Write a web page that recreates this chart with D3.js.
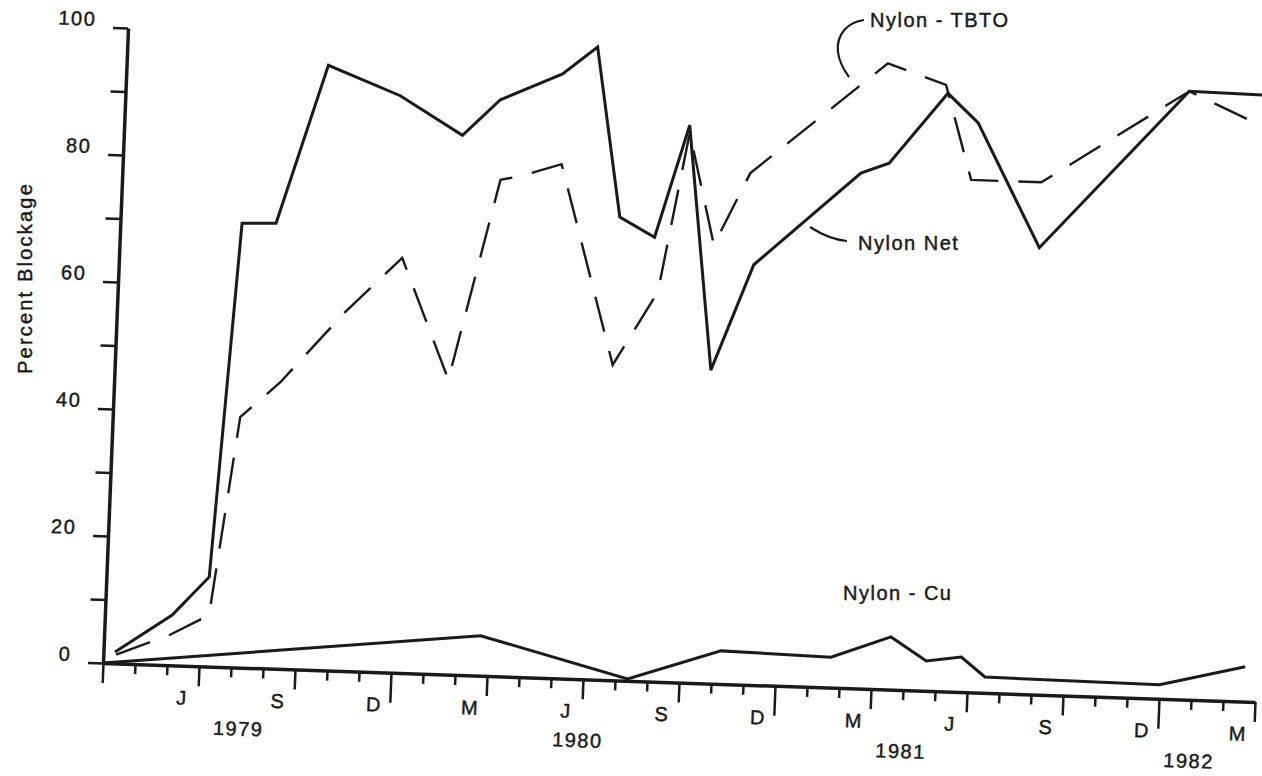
<!DOCTYPE html>
<html>
<head>
<meta charset="utf-8">
<script src="https://cdn.jsdelivr.net/npm/d3@7"></script>
<style>
  body { margin: 0; background: #fff; }
  text { font-family: "Liberation Sans", Arial, sans-serif; fill: #1a1a1a; stroke: #1a1a1a; stroke-width: 0.45px; }
</style>
</head>
<body>
<div id="visual"></div>
<script>
// x values are months counted from 1 April 1979, y values are percent blockage
var netMonth  = [0.36, 2.10, 3.21, 3.80, 4.86, 6.30, 8.58, 10.57, 11.71, 13.62, 14.68, 15.58, 16.69, 17.65, 18.61, 19.82, 23.05, 23.92, 25.67, 26.65, 28.71, 33.2, 35.5];
var netValue  = [1.8, 7.9, 14.1, 69.9, 70.1, 95.2, 90.8, 84.9, 90.7, 95.1, 99.5, 72.9, 69.9, 87.7, 49.3, 66.1, 81.1, 82.8, 94.1, 89.6, 70.3, 95.7, 95.5];

var tbtoMonth = [0.4, 2.06, 3.25, 3.98, 5.19, 7.09, 8.84, 10.43, 11.81, 12.43, 13.7, 15.54, 16.86, 17.66, 18.55, 19.6, 23.76, 25.6, 26.5, 28.69, 33.2, 35.56];
var tbtoValue = [1.4, 4.8, 8.1, 39.4, 45.1, 56.3, 65.3, 46.4, 78.1, 78.8, 80.9, 49.6, 61.3, 86.5, 69.0, 80.5, 98.5, 95.4, 80.6, 80.6, 95.7, 90.5];

var cuMonth   = [0, 11.75, 16.39, 19.27, 22.71, 24.56, 25.69, 26.78, 27.54, 33.0, 35.65];
var cuValue   = [0, 6.3, 0.3, 5.2, 4.8, 8.3, 4.7, 5.5, 2.5, 2.2, 5.5];

var monthLabels = ["J", "S", "D", "M", "J", "S", "D", "M", "J", "S", "D", "M"];
var labelMonths = [2, 5, 8, 11, 14, 17, 20, 23, 26, 29, 32, 35];
var yearLabels  = ["1979", "1980", "1981", "1982"];
var yearMonths  = [4.3, 14.9, 25.0, 34.0];

var width = 1262, height = 776;

var svg = d3.select("#visual").append("svg")
  .attr("width", width)
  .attr("height", height);

var x = d3.scaleLinear().domain([0, 36]).range([0, 1152]);
var y = d3.scaleLinear().domain([0, 100]).range([0, -635]);

// the scanned figure is slightly tilted, so the whole plot frame is sheared
var plot = svg.append("g")
  .attr("transform", "matrix(1,0.0339,-0.0394,1,103,663)");

// x axis: month ticks, longer at quarters, longest at January
var allMonths = d3.range(0, 37);
var janTicks = allMonths.filter(function(m) { return (m + 3) % 12 === 0; });
var qTicks = allMonths.filter(function(m) { return m % 3 === 0 && (m + 3) % 12 !== 0; });
var minorTicks = allMonths.filter(function(m) { return m % 3 !== 0; });

function styleAxis(g, keepDomain) {
  g.selectAll("line").attr("stroke", "#1a1a1a").attr("stroke-width", 2.5);
  if (keepDomain) g.select(".domain").attr("stroke", "#1a1a1a").attr("stroke-width", 3.5);
  else g.select(".domain").remove();
}

plot.append("g").call(d3.axisBottom(x).tickValues(minorTicks).tickSize(10).tickSizeOuter(0).tickFormat(""))
  .call(styleAxis, true);
plot.append("g").call(d3.axisBottom(x).tickValues(qTicks).tickSize(20).tickSizeOuter(0).tickFormat(""))
  .call(styleAxis, false);
plot.append("g").call(d3.axisBottom(x).tickValues(janTicks).tickSize(30).tickSizeOuter(0).tickFormat(""))
  .call(styleAxis, false);

plot.selectAll(".monthLabel")
  .data(labelMonths)
  .enter()
  .append("text")
  .attr("class", "monthLabel")
  .attr("x", function(d) { return x(d + 0.5); })
  .attr("y", 39)
  .attr("text-anchor", "middle")
  .style("font-size", "20px")
  .style("letter-spacing", "1px")
  .text(function(d, i) { return monthLabels[i]; });

plot.selectAll(".yearLabel")
  .data(yearMonths)
  .enter()
  .append("text")
  .attr("class", "yearLabel")
  .attr("x", function(d) { return x(d); })
  .attr("y", 68)
  .attr("text-anchor", "middle")
  .style("font-size", "20px")
  .style("letter-spacing", "1.5px")
  .text(function(d, i) { return yearLabels[i]; });

// y axis
var yAxisG = plot.append("g")
  .call(d3.axisLeft(y)
    .tickValues(d3.range(0, 101, 10))
    .tickSize(15)
    .tickSizeOuter(0)
    .tickFormat(function(d) { return d % 20 === 0 ? d : ""; }));
styleAxis(yAxisG, true);
yAxisG.selectAll("text")
  .attr("x", -32)
  .attr("dy", "-0.08em")
  .style("font-size", "20px")
  .style("letter-spacing", "1.5px")
  .style("font-family", "'Liberation Sans', Arial, sans-serif")
  .attr("fill", "#1a1a1a");

// data lines
var line = d3.line()
  .x(function(d) { return x(d[0]); })
  .y(function(d) { return y(d[1]); });

var series = [
  { name: "net", pts: d3.zip(netMonth, netValue), width: 3, dash: null },
  { name: "tbto", pts: d3.zip(tbtoMonth, tbtoValue), width: 2.4, dash: "36,20" },
  { name: "cu", pts: d3.zip(cuMonth, cuValue), width: 3, dash: null }
];

plot.selectAll(".series")
  .data(series)
  .enter()
  .append("path")
  .attr("class", "series")
  .attr("d", function(d) { return line(d.pts); })
  .attr("fill", "none")
  .attr("stroke", "#1a1a1a")
  .attr("stroke-width", function(d) { return d.width; })
  .attr("stroke-linejoin", "miter")
  .attr("stroke-dasharray", function(d) { return d.dash; });

// axis title
svg.append("text")
  .attr("transform", "translate(32,278) rotate(-90)")
  .attr("text-anchor", "middle")
  .style("font-size", "20px")
  .style("letter-spacing", "2.2px")
  .text("Percent Blockage");

// series annotations with leader lines
var notes = svg.append("g").attr("class", "notes");

notes.append("text").attr("x", 870).attr("y", 27)
  .style("font-size", "20px").style("letter-spacing", "1.5px")
  .text("Nylon - TBTO");
notes.append("path")
  .attr("d", "M864,20 C848,22 836,34 838,52 C839,62 844,70 849,77")
  .attr("fill", "none").attr("stroke", "#1a1a1a").attr("stroke-width", 2.2);

notes.append("text").attr("x", 858).attr("y", 250)
  .style("font-size", "20px").style("letter-spacing", "1.5px")
  .text("Nylon Net");
notes.append("path")
  .attr("d", "M847,241 C835,240 824,236 810,227")
  .attr("fill", "none").attr("stroke", "#1a1a1a").attr("stroke-width", 2.2);

notes.append("text").attr("x", 843).attr("y", 600)
  .style("font-size", "20px").style("letter-spacing", "1.5px")
  .text("Nylon - Cu");
</script>
</body>
</html>
